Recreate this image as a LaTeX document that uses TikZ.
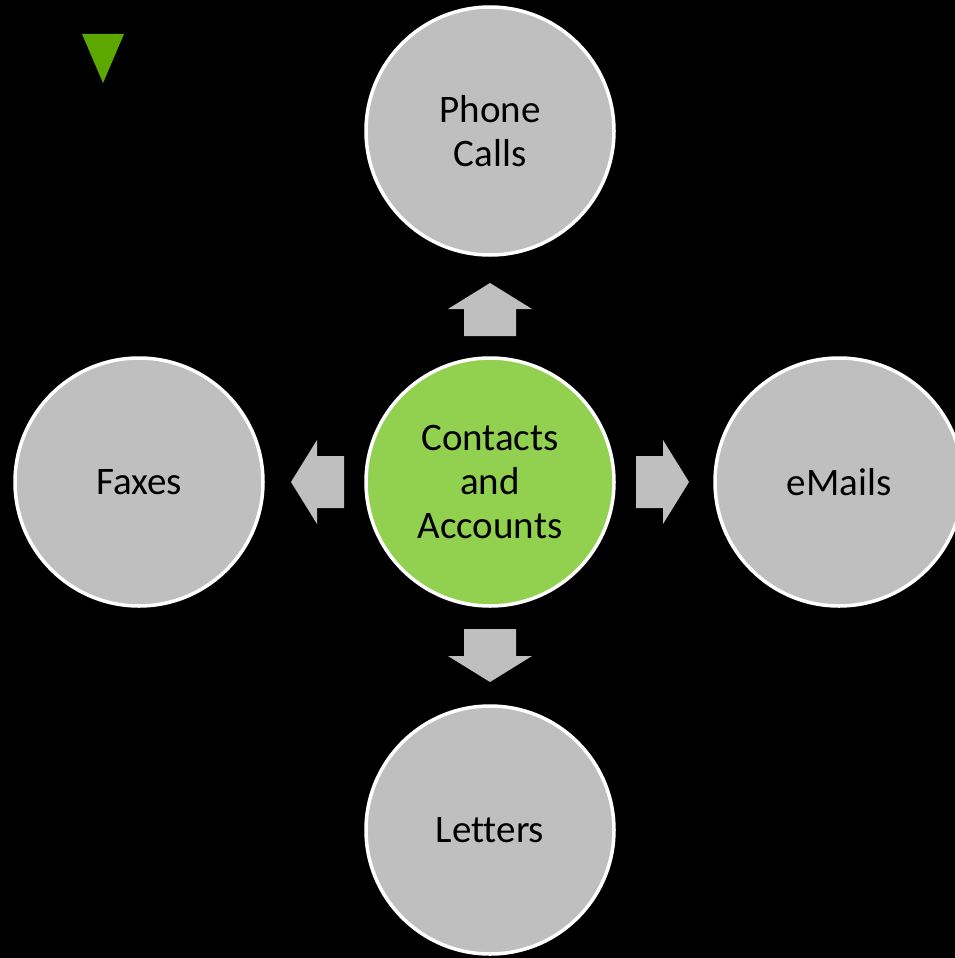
\documentclass[tikz,border=0pt]{standalone}
\usepackage{fontspec}
\setmainfont{Carlito}[Ligatures={NoCommon}]
\definecolor{circlegray}{HTML}{BFBFBF}
\definecolor{hubgreen}{HTML}{92D050}
\definecolor{markgreen}{HTML}{5DA800}

\tikzset{
  blockarrow/.pic={
    \fill[circlegray] (0,-26) -- (27,-26) -- (27,-42) -- (53,0)
      -- (27,42) -- (27,26) -- (0,26) -- cycle;
  }
}

\begin{document}
\begin{tikzpicture}[x=1pt,y=-1pt,
                    main node/.style={circle,draw=white,line width=3.5pt,fill=circlegray,
                      minimum size=248pt,inner sep=0pt,align=center,
                      font=\fontsize{39}{44}\selectfont}]

  \fill[black] (0,0) rectangle (955,958);
  \useasboundingbox (0,0) rectangle (955,958);
  \clip (0,0) rectangle (955,958);

  \node[main node,fill=hubgreen] (hub) at (490,482) {Contacts\\and\\Accounts};
  \node[main node] (phone) at (490,131) {Phone\\Calls};
  \node[main node] (fax) at (139,482) {Faxes};
  \node[main node] (mail) at (839,482) {eMails};
  \node[main node] (letter) at (490,830) {Letters};

  % block arrows
  \pic[rotate=90] (toPhone) at (490,336) {blockarrow};
  \pic[rotate=180] (toFax) at (344,482) {blockarrow};
  \pic (toMail) at (636,482) {blockarrow};
  \pic[rotate=-90] (toLetter) at (490,629) {blockarrow};

  \fill[markgreen] (82,34) -- (124,34) -- (103,83) -- cycle;
\end{tikzpicture}
\end{document}
